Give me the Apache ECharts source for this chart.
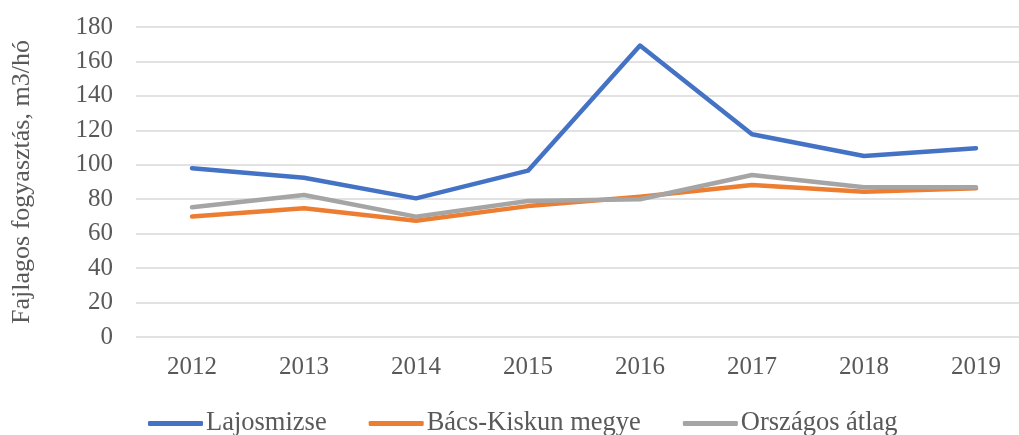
<!DOCTYPE html>
<html>
<head>
<meta charset="utf-8">
<script src="https://cdn.jsdelivr.net/npm/echarts@6/dist/echarts.min.js"></script>
<style>
	html, body { margin: 0; padding: 0; background: #fff; overflow: hidden; }
	#chart { width: 1032px; height: 435px; }
</style>
</head>
<body>
<div id="chart"></div>
<script>
var years = ['2012', '2013', '2014', '2015', '2016', '2017', '2018', '2019'];
var lajosmizse = [98, 92.5, 80.5, 96.6, 169.2, 117.7, 105.1, 109.6];
var bacsKiskun = [69.9, 74.7, 67.5, 76, 81.5, 88.3, 84.4, 86.3];
var orszagos = [75.3, 82.5, 69.9, 79, 80, 94.1, 86.9, 86.9];

var font = '"Liberation Serif", "Times New Roman", serif';

function lineSeries(name, data, color) {
	return {
		name: name,
		type: 'line',
		data: data,
		symbol: 'none',
		lineStyle: { color: color, width: 4.5, cap: 'round', join: 'round' },
		itemStyle: { color: color }
	};
}

var option = {
	animation: false,
	textStyle: { fontFamily: font },
	grid: { left: 136, right: 0, top: 27, bottom: 98 },
	legend: {
		bottom: -7,
		left: 143,
		itemGap: 42,
		itemWidth: 55,
		itemHeight: 5,
		icon: 'roundRect',
		textStyle: { fontFamily: font, fontSize: 26.5, color: '#595959', padding: [0, 0, 0, -2] },
		data: ['Lajosmizse', 'Bács-Kiskun megye', 'Országos átlag']
	},
	xAxis: {
		type: 'category',
		data: years,
		boundaryGap: true,
		axisLine: { show: false },
		axisTick: { show: false },
		axisLabel: { fontFamily: font, fontSize: 25, color: '#595959', margin: 18 }
	},
	yAxis: {
		type: 'value',
		min: 0,
		max: 180,
		interval: 20,
		name: 'Fajlagos fogyasztás, m3/hó',
		nameLocation: 'middle',
		nameRotate: 90,
		nameGap: 101,
		nameTextStyle: { fontFamily: font, fontSize: 26, color: '#595959' },
		axisLine: { show: false },
		axisTick: { show: false },
		axisLabel: { fontFamily: font, fontSize: 25, color: '#595959', margin: 23 },
		splitLine: { lineStyle: { color: '#d9d9d9', width: 1.5 } }
	},
	series: [
		lineSeries('Lajosmizse', lajosmizse, '#4472C4'),
		lineSeries('Bács-Kiskun megye', bacsKiskun, '#ED7D31'),
		lineSeries('Országos átlag', orszagos, '#A5A5A5')
	]
};

var chart = echarts.init(document.getElementById('chart'));
chart.setOption(option);
</script>
</body>
</html>
